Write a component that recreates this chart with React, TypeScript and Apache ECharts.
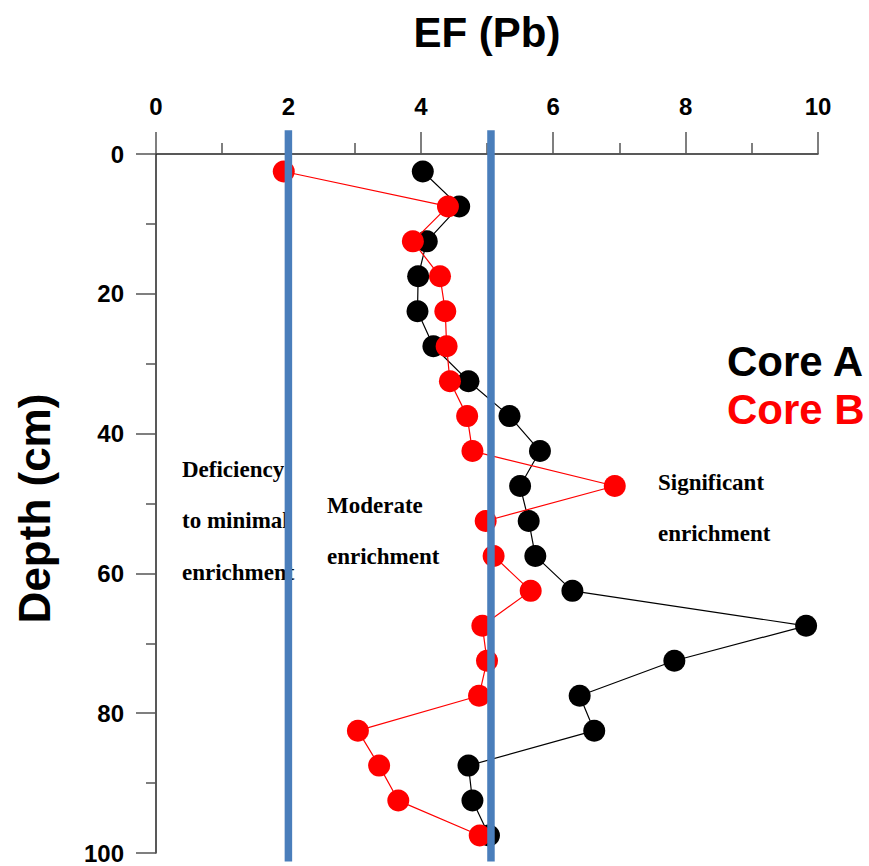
import React, { useEffect, useRef } from "react";
import * as echarts from "echarts";

// Depth (cm) of each sample interval (midpoints)
const depths = [2.5, 7.5, 12.5, 17.5, 22.5, 27.5, 32.5, 37.5, 42.5, 47.5, 52.5, 57.5, 62.5, 67.5, 72.5, 77.5, 82.5, 87.5, 92.5, 97.5];
// EF (Pb) values
const coreA = [4.03, 4.58, 4.09, 3.96, 3.95, 4.19, 4.72, 5.34, 5.8, 5.5, 5.63, 5.73, 6.29, 9.82, 7.83, 6.4, 6.62, 4.72, 4.78, 5.03];
const coreB = [1.93, 4.41, 3.88, 4.29, 4.37, 4.39, 4.44, 4.7, 4.78, 6.93, 4.98, 5.1, 5.66, 4.93, 5.0, 4.88, 3.05, 3.37, 3.66, 4.89];
// Enrichment class thresholds
const thresholds = [2, 5.06];
const thresholdSpan = [-3.4, 101.2];
const seriesNames = ["Core A", "Core B"];
const seriesColors = ["#000000", "#ff0000"];

const xTicks = { min: 0, max: 10, interval: 2 };
const yTicks = { min: 0, max: 100, interval: 20 };

const annotations = [
  { lines: ["Deficiency", "to minimal", "enrichment"], x: 182, y: 470 },
  { lines: ["Moderate", "enrichment"], x: 327, y: 506 },
  { lines: ["Significant", "enrichment"], x: 658, y: 483 },
];

const SANS = "'Liberation Sans', Arial, sans-serif";
const NARROW = "'Liberation Sans Narrow', 'Arial Narrow', 'Liberation Sans', sans-serif";
const SERIF = "'Liberation Serif', 'Times New Roman', serif";

export default function App() {
  const ref = useRef<HTMLDivElement>(null);
  useEffect(() => {
    if (!ref.current) return;
    const chart = echarts.init(ref.current, undefined, { renderer: "svg" });
    const coreData = [coreA, coreB].map((vals) => vals.map((v, i) => [v, depths[i]]));

    const graphic: any[] = [];
    annotations.forEach((a) => {
      a.lines.forEach((t, i) => {
        graphic.push({
          type: "text",
          left: a.x,
          top: a.y + i * 51.5 - 12.5,
          z: 1,
          style: { text: t, font: `bold 23px ${SERIF}`, fill: "#000" },
        });
      });
    });

    chart.setOption({
      animation: false,
      backgroundColor: "#fff",
      grid: { left: 156, top: 154, right: 51, bottom: 13 },
      legend: {
        orient: "vertical",
        left: 717,
        top: 334,
        itemWidth: 0,
        itemHeight: 0,
        itemGap: 4,
        icon: "rect",
        selectedMode: false,
        data: seriesNames.map((n, i) => ({
          name: n,
          textStyle: { color: seriesColors[i], fontSize: 42, fontWeight: "bold", fontFamily: SANS, lineHeight: 44 },
        })),
      },
      xAxis: {
        type: "value",
        position: "top",
        min: xTicks.min,
        max: xTicks.max,
        interval: xTicks.interval,
        name: "EF (Pb)",
        nameLocation: "middle",
        nameGap: 101,
        nameTextStyle: { fontSize: 42, fontWeight: "bold", fontFamily: SANS, color: "#000" },
        axisLine: { show: true, lineStyle: { color: "#222", width: 1.5 } },
        axisTick: { show: true, length: 22, lineStyle: { color: "#555", width: 1.5 } },
        minorTick: { show: true, splitNumber: 2, length: 11, lineStyle: { color: "#555", width: 1.5 } },
        splitLine: { show: false },
        axisLabel: { fontSize: 24, fontWeight: "bold", fontFamily: NARROW, color: "#000", margin: 36 },
      },
      yAxis: {
        type: "value",
        inverse: true,
        min: yTicks.min,
        max: yTicks.max,
        interval: yTicks.interval,
        name: "Depth (cm)",
        nameLocation: "middle",
        nameGap: 100,
        nameRotate: 90,
        nameTextStyle: { fontSize: 44, fontWeight: "bold", fontFamily: SANS, color: "#000", padding: [0, 10, 0, 0] },
        axisLine: { show: true, lineStyle: { color: "#222", width: 1.5 } },
        axisTick: { show: true, length: 20, lineStyle: { color: "#555", width: 1.5 } },
        minorTick: { show: true, splitNumber: 2, length: 10, lineStyle: { color: "#555", width: 1.5 } },
        splitLine: { show: false },
        axisLabel: { fontSize: 24, fontWeight: "bold", fontFamily: SANS, color: "#000", margin: 32 },
      },
      graphic,
      series: [
        ...seriesNames.map((n, i) => ({
          name: n,
          type: "line",
          data: coreData[i],
          symbol: "circle",
          symbolSize: 22,
          z: 2 + i,
          itemStyle: { color: seriesColors[i] },
          lineStyle: { color: seriesColors[i], width: 1.2 },
        })),
        ...thresholds.map((t) => ({
          name: "threshold " + t,
          type: "line",
          data: thresholdSpan.map((d) => [t, d]),
          showSymbol: false,
          symbol: "none",
          clip: false,
          z: 10,
          silent: true,
          lineStyle: { color: "#4a7ebb", width: 7.5 },
        })),
      ],
    });
    return () => chart.dispose();
  }, []);
  return <div ref={ref} style={{ position: "fixed", left: 0, top: 0, width: 869, height: 866 }} />;
}
